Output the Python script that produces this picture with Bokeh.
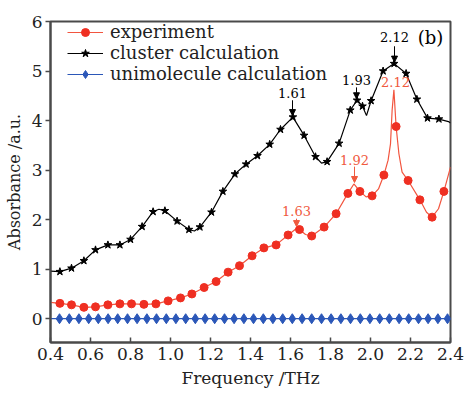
from bokeh.plotting import figure
from bokeh.models import (Legend, LegendItem, FixedTicker, PrintfTickFormatter,
                          Arrow, NormalHead, ColumnDataSource, Range1d)
from bokeh.core.properties import value
from bokeh.embed import file_html
from bokeh.resources import INLINE

# ---------------- data ----------------
x_ticks = [0.4, 0.6, 0.8, 1.0, 1.2, 1.4, 1.6, 1.8, 2.0, 2.2, 2.4]
y_ticks = [0, 1, 2, 3, 4, 5, 6]

# experiment (markers)
exp_x = [0.447, 0.505, 0.567, 0.625, 0.687, 0.747, 0.805, 0.867, 0.927, 0.988,
         1.050, 1.107, 1.168, 1.228, 1.288, 1.345, 1.408, 1.467, 1.528, 1.588,
         1.645, 1.706, 1.768, 1.828, 1.887, 1.947, 2.008, 2.067, 2.128, 2.188,
         2.247, 2.308, 2.367]
exp_y = [0.31, 0.28, 0.23, 0.24, 0.28, 0.30, 0.30, 0.29, 0.30, 0.36,
         0.42, 0.50, 0.63, 0.75, 0.94, 1.07, 1.27, 1.43, 1.49, 1.69,
         1.80, 1.67, 1.85, 2.12, 2.53, 2.57, 2.48, 2.90, 3.88, 2.79,
         2.40, 2.05, 2.57]
# experiment (continuous curve)
exp_curve_x = [0.400, 0.447, 0.505, 0.567, 0.625, 0.687, 0.747, 0.805, 0.867, 0.927,
               0.988, 1.050, 1.107, 1.168, 1.228, 1.288, 1.345, 1.408, 1.467, 1.528,
               1.588, 1.633, 1.645, 1.675, 1.706, 1.768, 1.828, 1.887, 1.917, 1.947,
               1.978, 2.008, 2.040, 2.067, 2.088, 2.100, 2.108, 2.117, 2.128, 2.142,
               2.158, 2.188, 2.247, 2.280, 2.308, 2.340, 2.367, 2.400]
exp_curve_y = [0.33, 0.31, 0.28, 0.23, 0.24, 0.28, 0.30, 0.30, 0.29, 0.30,
               0.36, 0.42, 0.50, 0.63, 0.75, 0.94, 1.07, 1.27, 1.43, 1.49,
               1.69, 1.83, 1.80, 1.70, 1.67, 1.85, 2.12, 2.53, 2.72, 2.57,
               2.46, 2.48, 2.62, 2.90, 3.20, 3.53, 4.20, 4.62, 3.88, 3.33,
               2.96, 2.79, 2.40, 2.15, 2.05, 2.22, 2.57, 3.06]

# cluster calculation (markers)
clu_x = [0.447, 0.505, 0.567, 0.625, 0.687, 0.747, 0.800, 0.858, 0.913, 0.972,
         1.033, 1.092, 1.147, 1.205, 1.262, 1.322, 1.378, 1.435, 1.496, 1.550,
         1.612, 1.668, 1.725, 1.783, 1.843, 1.899, 1.933, 1.960, 2.003, 2.063,
         2.118, 2.178, 2.232, 2.285, 2.342]
clu_y = [0.95, 1.02, 1.17, 1.39, 1.49, 1.49, 1.60, 1.86, 2.16, 2.18,
         1.97, 1.80, 1.85, 2.15, 2.57, 2.92, 3.12, 3.29, 3.52, 3.82,
         4.07, 3.70, 3.27, 3.17, 3.54, 4.21, 4.41, 4.29, 4.40, 5.00,
         5.15, 4.95, 4.43, 4.05, 4.03]
# cluster calculation (continuous curve)
clu_curve_x = [0.400, 0.447, 0.505, 0.567, 0.625, 0.687, 0.747, 0.800, 0.858, 0.913,
               0.942, 0.972, 1.033, 1.092, 1.120, 1.147, 1.205, 1.262, 1.322, 1.378,
               1.435, 1.496, 1.550, 1.612, 1.668, 1.725, 1.755, 1.783, 1.843, 1.899,
               1.933, 1.960, 1.980, 2.003, 2.063, 2.118, 2.178, 2.232, 2.285, 2.342,
               2.390, 2.400]
clu_curve_y = [0.96, 0.95, 1.02, 1.17, 1.39, 1.49, 1.49, 1.60, 1.86, 2.16,
               2.21, 2.18, 1.97, 1.80, 1.77, 1.85, 2.15, 2.57, 2.92, 3.12,
               3.29, 3.52, 3.82, 4.07, 3.70, 3.27, 3.14, 3.17, 3.54, 4.21,
               4.41, 4.29, 4.10, 4.40, 5.00, 5.15, 4.95, 4.43, 4.05, 4.03,
               3.98, 3.95]

# unimolecule calculation
uni_x = [0.445, 0.494, 0.542, 0.591, 0.639, 0.688, 0.736, 0.785, 0.833, 0.882,
         0.930, 0.979, 1.027, 1.076, 1.124, 1.173, 1.221, 1.270, 1.318, 1.367,
         1.415, 1.464, 1.512, 1.561, 1.609, 1.658, 1.706, 1.755, 1.803, 1.852,
         1.900, 1.949, 1.997, 2.046, 2.094, 2.143, 2.191, 2.240, 2.288, 2.337,
         2.385]
uni_y = [0.0, 0.0, 0.0, 0.0, 0.0, 0.0, 0.0, 0.0, 0.0, 0.0,
         0.0, 0.0, 0.0, 0.0, 0.0, 0.0, 0.0, 0.0, 0.0, 0.0,
         0.0, 0.0, 0.0, 0.0, 0.0, 0.0, 0.0, 0.0, 0.0, 0.0,
         0.0, 0.0, 0.0, 0.0, 0.0, 0.0, 0.0, 0.0, 0.0, 0.0,
         0.0]
uni_curve_x = [0.4, 2.4]
uni_curve_y = [0.0, 0.0]

# peak annotations
blk_peak_x = [1.61, 1.93, 2.12]
blk_peak_label = ["1.61", "1.93", "2.12"]
blk_label_y = [4.55, 4.81, 5.68]
blk_arrow_top = [4.41, 4.67, 5.50]
blk_arrow_bot = [4.10, 4.44, 5.18]

red_peak_x = [1.63, 1.92]
red_peak_label = ["1.63", "1.92"]
red_label_y = [2.17, 3.21]
red_arrow_top = [2.02, 3.07]
red_arrow_bot = [1.86, 2.75]
red_top_label_x = [2.125]
red_top_label_y = [4.77]
red_top_label = ["2.12"]

# ---------------- style ----------------
FONT = "DejaVu Serif"
RED = "#ef2f22"
RED_LINE = "#f2553f"
RED_TXT = "#f05a3e"
BLUE = "#2b57b8"
FRAME = "#4a4a4a"

W, H = 466, 393
B_LEFT, B_RIGHT, B_TOP, B_BOTTOM = 50, 16, 21, 51

p = figure(width=W, height=H, output_backend="svg", toolbar_location=None,
           x_range=Range1d(0.4, 2.4), y_range=Range1d(-0.48, 6.0),
           min_border_left=B_LEFT, min_border_right=B_RIGHT, min_border_top=B_TOP,
           min_border_bottom=B_BOTTOM)
p.xgrid.visible = False
p.ygrid.visible = False
p.outline_line_color = FRAME
p.outline_line_width = 2
p.background_fill_color = "white"
p.border_fill_color = "white"

# lines + markers
r_exp_l = p.line(exp_curve_x, exp_curve_y, line_color=RED_LINE, line_width=1.2)
r_exp_m = p.scatter(exp_x, exp_y, marker="circle", size=8, fill_color=RED,
                    line_color=RED)
r_clu_l = p.line(clu_curve_x, clu_curve_y, line_color="black", line_width=1.2)
r_clu_m = p.scatter(clu_x, clu_y, marker="star", size=8, fill_color="black",
                    line_color="black")
r_uni_l = p.line(uni_curve_x, uni_curve_y, line_color=BLUE, line_width=1.2)
r_uni_m = p.scatter(uni_x, uni_y, marker="diamond", size=10, fill_color=BLUE,
                    line_color=BLUE)

# annotations
p.text(blk_peak_x, blk_label_y, text=blk_peak_label, text_font=value(FONT),
       text_font_size="13px", text_align="center", text_baseline="middle",
       text_color="black")
p.text(red_peak_x, red_label_y, text=red_peak_label, text_font=value(FONT),
       text_font_size="13px", text_align="center", text_baseline="middle",
       text_color=RED_TXT)
p.text(red_top_label_x, red_top_label_y, text=red_top_label, text_font=value(FONT),
       text_font_size="13px", text_align="center", text_baseline="middle",
       text_color=RED_TXT)
p.text([2.30], [5.68], text=["(b)"], text_font=value(FONT),
       text_font_size="18px", text_align="center", text_baseline="middle",
       text_color="black")

blk_src = ColumnDataSource(dict(x=blk_peak_x, y0=blk_arrow_top, y1=blk_arrow_bot))
p.add_layout(Arrow(source=blk_src, x_start="x", y_start="y0", x_end="x", y_end="y1",
                   line_color="black", line_width=1,
                   end=NormalHead(size=6, fill_color="black", line_color="black")))
red_src = ColumnDataSource(dict(x=red_peak_x, y0=red_arrow_top, y1=red_arrow_bot))
p.add_layout(Arrow(source=red_src, x_start="x", y_start="y0", x_end="x", y_end="y1",
                   line_color=RED_TXT, line_width=1,
                   end=NormalHead(size=6, fill_color=RED_TXT, line_color=RED_TXT)))

# axes
for ax in (p.xaxis[0], p.yaxis[0]):
    ax.axis_line_color = FRAME
    ax.axis_line_width = 2
    ax.major_tick_line_color = FRAME
    ax.major_tick_line_width = 1.5
    ax.minor_tick_line_color = None
    ax.major_label_text_font = FONT
    ax.major_label_text_font_size = "17px"
    ax.major_label_text_color = "#222222"
    ax.axis_label_text_font = FONT
    ax.axis_label_text_font_style = "normal"
    ax.axis_label_text_color = "#222222"

p.xaxis.ticker = FixedTicker(ticks=x_ticks)
p.xaxis.formatter = PrintfTickFormatter(format="%.1f")
p.xaxis.major_tick_in = 5
p.xaxis.major_tick_out = 0
p.xaxis.major_label_standoff = 5
p.xaxis.axis_label = "Frequency /THz"
p.xaxis.axis_label_text_font_size = "17px"
p.xaxis.axis_label_standoff = 5

p.yaxis.ticker = FixedTicker(ticks=y_ticks)
p.yaxis.formatter = PrintfTickFormatter(format="%d")
p.yaxis.major_tick_in = 0
p.yaxis.major_tick_out = 5
p.yaxis.major_label_standoff = 3
p.yaxis.axis_label = "Absorbance /a.u."
p.yaxis.axis_label_text_font_size = "16px"
p.yaxis.axis_label_standoff = 5

# legend
frame_h = H - B_TOP - B_BOTTOM
legend = Legend(items=[
    LegendItem(label="experiment", renderers=[r_exp_l, r_exp_m]),
    LegendItem(label="cluster calculation", renderers=[r_clu_l, r_clu_m]),
    LegendItem(label="unimolecule calculation", renderers=[r_uni_l, r_uni_m]),
], location=(17, frame_h - 63))
legend.border_line_color = None
legend.background_fill_alpha = 0
legend.padding = 0
legend.margin = 0
legend.spacing = 0
legend.glyph_width = 36
legend.glyph_height = 20
legend.label_height = 20
legend.label_standoff = 7
legend.label_text_font = FONT
legend.label_text_font_size = "18px"
legend.label_text_color = "#222222"
p.add_layout(legend)

open("out.html", "w").write(file_html(p, INLINE))
